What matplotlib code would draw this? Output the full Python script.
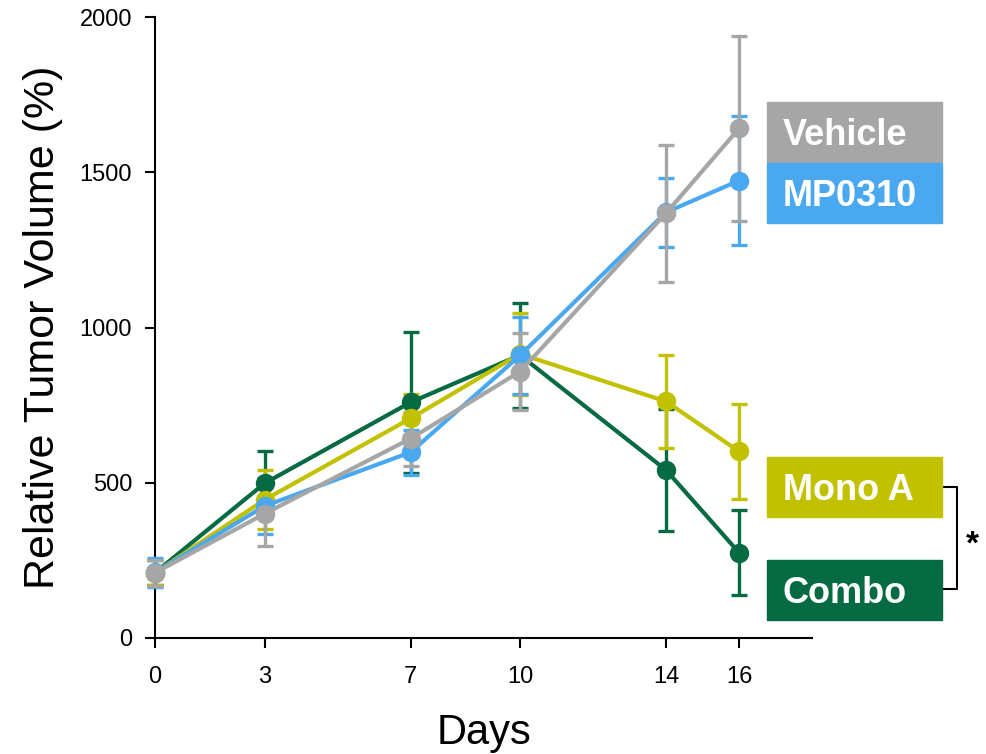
import numpy as np
import matplotlib
matplotlib.use("Agg")
import matplotlib.pyplot as plt
from matplotlib.patches import Rectangle
from matplotlib.lines import Line2D

plt.rcParams['font.family'] = ['Liberation Sans', 'DejaVu Sans']

# data
days = [0, 3, 7, 10, 14, 16]
groups = ["Combo", "Mono A", "MP0310", "Vehicle"]
vehicle = [210, 400, 642, 858, 1368, 1641]
vehicle_sem = [42, 103, 87, 124, 220, 297]
mp0310 = [211, 425, 598, 910, 1371, 1473]
mp0310_sem = [46, 90, 72, 125, 111, 208]
mono_a = [210, 445, 707, 915, 762, 601]
mono_a_sem = [40, 95, 79, 133, 149, 152]
combo = [210, 498, 759, 911, 541, 275]
combo_sem = [40, 104, 227, 169, 195, 137]
y_ticks = [0, 500, 1000, 1500, 2000]

colors = {"Vehicle": "#a6a6a6", "MP0310": "#4aa8f0",
          "Mono A": "#c2c100", "Combo": "#066a43"}
series = {"Vehicle": (vehicle, vehicle_sem), "MP0310": (mp0310, mp0310_sem),
          "Mono A": (mono_a, mono_a_sem), "Combo": (combo, combo_sem)}

W, H = 986, 754
fig = plt.figure(figsize=(W / 100, H / 100), dpi=100)
ax = fig.add_axes([155 / W, 1 - 638 / H, (812 - 155) / W, (638 - 17) / H])

for g in groups:  # combo drawn first, vehicle on top
    vals, sem = series[g]
    ax.errorbar(days, vals, yerr=sem, color=colors[g], lw=3, marker='o',
                markersize=13, elinewidth=2.4, capsize=6, capthick=2.4,
                clip_on=False, zorder=3)

ax.set_xlim(0, 18)
ax.set_ylim(0, 2000)
ax.set_xticks(days)
ax.set_yticks(y_ticks)
for s in ["top", "right"]:
    ax.spines[s].set_visible(False)
for s in ["left", "bottom"]:
    ax.spines[s].set_linewidth(1.5)
ax.tick_params(axis='both', direction='out', length=7.5, width=1.5, labelsize=17)
ax.tick_params(axis='x', pad=13)
ax.tick_params(axis='y', pad=9)
ax.set_ylabel("Relative Tumor Volume (%)", fontsize=31, labelpad=12)
ax.set_xlabel("Days", fontsize=30, labelpad=18)

# label boxes at the right
boxes = [("Vehicle", 102, 161.5), ("MP0310", 163.5, 222.5),
         ("Mono A", 457, 516.5), ("Combo", 560, 619.5)]
x0, x1 = 767, 942
for name, top, bot in boxes:
    fig.patches.append(Rectangle((x0 / W, 1 - bot / H), (x1 - x0) / W, (bot - top) / H,
                                 transform=fig.transFigure, color=colors[name], zorder=5))
    fig.text(783 / W, 1 - (top + bot) / 2 / H, name, color="white", fontsize=26,
             fontweight="bold", ha="left", va="center_baseline", zorder=6)

# significance bracket
bx = [942 / W, 957 / W, 957 / W, 942 / W]
by = [1 - 487 / H, 1 - 487 / H, 1 - 588.5 / H, 1 - 588.5 / H]
fig.lines.append(Line2D(bx, by, transform=fig.transFigure, color="black", lw=1.5))
fig.text(972 / W, 1 - 545 / H, "*", fontsize=24, fontweight="bold", ha="center", va="center")

fig.savefig("out.png", dpi=100)
